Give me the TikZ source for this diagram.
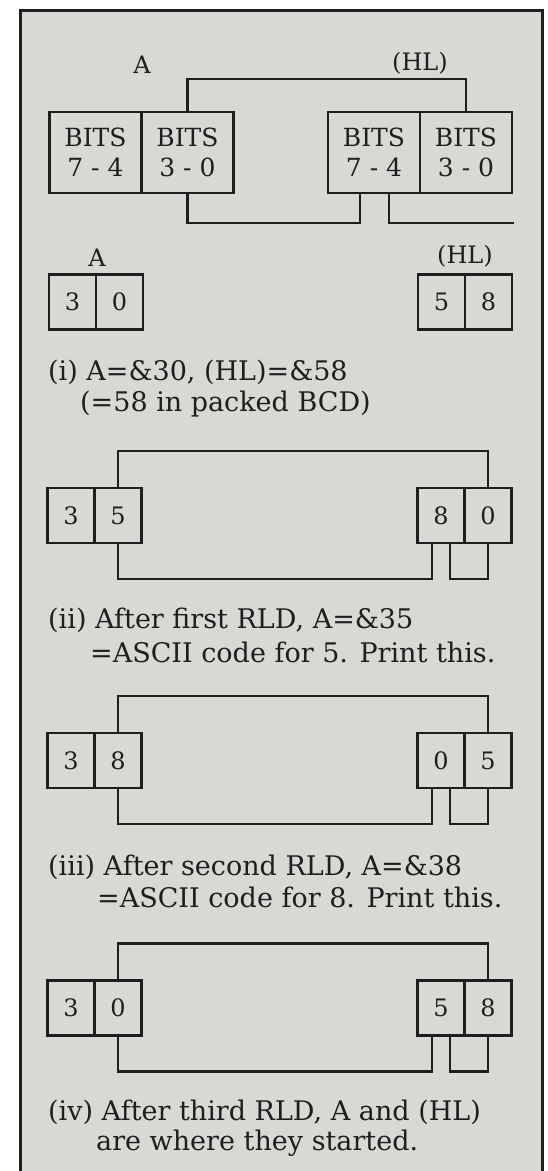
\documentclass[tikz,border=0pt]{standalone}
\usepackage{fontspec}
\setmainfont{DejaVu Serif}
\usetikzlibrary{positioning}
\definecolor{panelgray}{RGB}{216,216,213}
\definecolor{ink}{RGB}{30,30,30}
\tikzset{
  nib/.style={draw=ink, line width=2.4pt, minimum width=47pt, minimum height=55pt,
    inner sep=0pt, outer sep=0pt, text=ink, font=\fontsize{24}{24}\selectfont},
  bitsnib/.style={nib, minimum width=92pt, minimum height=81pt, align=center,
    font=\fontsize{25}{30}\selectfont},
  wire/.style={draw=ink, line width=2.4pt},
  regname/.style={text=ink, inner sep=0pt, font=\fontsize{24}{24}\selectfont},
  capline/.style={anchor=base west, inner sep=0pt, text=ink, font=\fontsize{27}{27}\selectfont}
}
\begin{document}
\begin{tikzpicture}[x=1pt,y=-1pt]
  \clip (0,0) rectangle (548,1171);
  \fill[white] (0,0) rectangle (548,1171);
  \filldraw[fill=panelgray, draw=ink, line width=3pt] (20,10.5) rectangle (542,1200);

  % the two registers, bit by bit
  \node[bitsnib] (aHi) at (95.5,152.5) {BITS\\7 - 4};
  \node[bitsnib, right=0pt of aHi] (aLo) {BITS\\3 - 0};
  \node[bitsnib] (hHi) at (374,152.5) {BITS\\7 - 4};
  \node[bitsnib, right=0pt of hHi] (hLo) {BITS\\3 - 0};
  \node[regname] (aName) at (142,65) {A};
  \node[regname] (hName) at (420,63) {(HL)};
  \coordinate (tailEnd) at (514,223);
  \draw[wire] (aLo.north) -- ++(0,-33) -| (hLo.north);
  \draw[wire] (aLo.south) -- ++(0,30) -| ([xshift=-14pt]hHi.south);
  \draw[wire] ([xshift=15pt]hHi.south) |- (tailEnd);

  % (i) starting values
  \node[nib] (a1Hi) at (72.5,302) {3};
  \node[nib, right=0pt of a1Hi] (a1Lo) {0};
  \node[nib] (h1Hi) at (441.5,302) {5};
  \node[nib, right=0pt of h1Hi] (h1Lo) {8};
  \node[regname] (a1Name) at (97,258) {A};
  \node[regname] (h1Name) at (465,256) {(HL)};
  \node[capline] (cap1a) at (48,380) {(i) A=\&30, (HL)=\&58};
  \node[capline] (cap1b) at (80,411) {(=58 in packed BCD)};

  % (ii)-(iv) after each RLD
  \foreach \n/\y/\p/\q/\r/\s in {2/515.5/3/5/8/0, 3/760.5/3/8/0/5, 4/1008/3/0/5/8} {
    \node[nib] (a\n Hi) at (71,\y) {\p};
    \node[nib, right=0pt of a\n Hi] (a\n Lo) {\q};
    \node[nib] (h\n Hi) at (441,\y) {\r};
    \node[nib, right=0pt of h\n Hi] (h\n Lo) {\s};
    \draw[wire] (a\n Lo.north) -- ++(0,-37) -| (h\n Lo.north);
    \draw[wire] (a\n Lo.south) -- ++(0,36) -| ([xshift=-9pt]h\n Hi.south);
    \draw[wire] ([xshift=9pt]h\n Hi.south) -- ++(0,36) -| (h\n Lo.south);
  }
  \node[capline] (cap2a) at (48,628) {(ii) After first RLD, A=\&35};
  \node[capline] (cap2b) at (90,662) {=ASCII code for 5. Print this.};
  \node[capline] (cap3a) at (48,875) {(iii) After second RLD, A=\&38};
  \node[capline] (cap3b) at (97,907) {=ASCII code for 8. Print this.};
  \node[capline] (cap4a) at (48,1120) {(iv) After third RLD, A and (HL)};
  \node[capline] (cap4b) at (96,1150) {are where they started.};
\end{tikzpicture}
\end{document}
